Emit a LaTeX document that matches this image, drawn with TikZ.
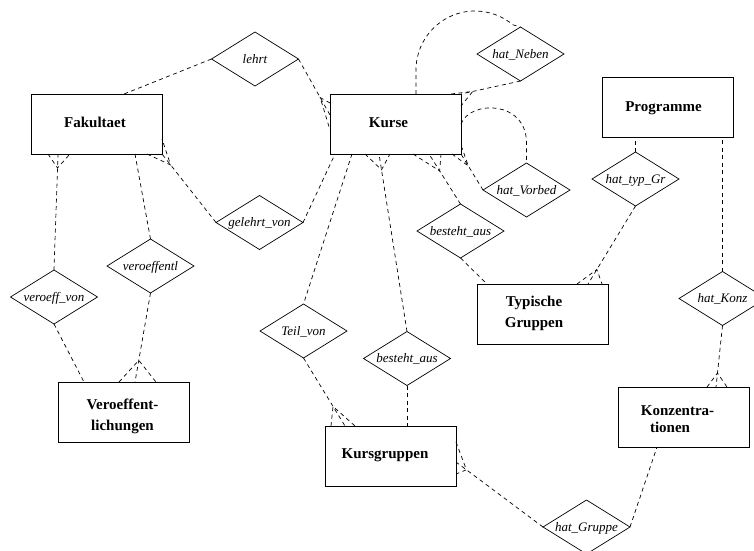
\documentclass[tikz,border=0pt]{standalone}
\usepackage{fontspec}
\setmainfont{Liberation Serif}
\usetikzlibrary{shapes.geometric,calc}

% many-end connector: #1 far end, #2 point on the box edge,
% #3 distance of the fork from the edge, #4 #5 outer toes
\newcommand\manyend[5]{%
  \draw[link] (#1) -- (#2);
  \draw[link] (#4) -- ($(#2)!#3!(#1)$) -- (#5);}

\begin{document}
\begin{tikzpicture}[x=1pt,y=-1pt,
  entity/.style={draw, rectangle, minimum width=131pt, minimum height=60pt,
    inner sep=0pt, outer sep=0pt, line width=0.9pt},
  etext/.style={font=\fontsize{15}{18}\selectfont\bfseries, anchor=base, inner sep=0pt},
  relship/.style={draw, diamond, aspect=1.61, minimum width=87pt, minimum height=54pt,
    inner sep=0pt, outer sep=0pt, line width=0.7pt,
    font=\fontsize{13}{15}\selectfont\itshape, text height=8pt, text depth=0pt},
  link/.style={dash pattern=on 4pt off 3.5pt, line width=0.7pt},
]
\useasboundingbox (0,0) rectangle (754,550);

% entities
\node[entity] (fak)   at (96.5,124)   {};
\node[entity] (kurse) at (395.5,124)  {};
\node[entity] (prog)  at (667.5,107.5) {};
\node[entity] (typ)   at (542.5,314)  {};
\node[entity] (ver)   at (123.5,412)  {};
\node[entity] (kg)    at (390.5,456)  {};
\node[entity] (konz)  at (684,417)    {};

\node[etext] (fakT)   at (95,127)    {Fakultaet};
\node[etext] (kurseT) at (388.5,127) {Kurse};
\node[etext] (progT)  at (663.5,111) {Programme};
\node[etext] (typT1)  at (534,306)   {Typische};
\node[etext] (typT2)  at (534,327)   {Gruppen};
\node[etext] (verT1)  at (122.5,409) {Veroeffent-};
\node[etext] (verT2)  at (122.5,430) {lichungen};
\node[etext] (kgT)    at (385,458)   {Kursgruppen};
\node[etext] (konzT1) at (677.5,415.5) {Konzentra-};
\node[etext] (konzT2) at (670,432.5) {tionen};

% relationships
\node[relship] (lehrt)       at (255,59)     {lehrt};
\node[relship] (gelehrt)     at (259.5,222.5) {gelehrt\_von};
\node[relship] (veroeffentl) at (150.5,266)  {veroeffentl};
\node[relship] (veroeffvon)  at (54,297)     {veroeff\_von};
\node[relship] (hatneben)    at (520.5,54)   {hat\_Neben};
\node[relship] (hatvorbed)   at (526.5,190)  {hat\_Vorbed};
\node[relship] (bestehtA)    at (460.5,231)  {besteht\_aus};
\node[relship] (hattyp)      at (635.5,179)  {hat\_typ\_Gr};
\node[relship] (hatkonz)     at (722.5,298.5) {hat\_Konz};
\node[relship] (teilvon)     at (303.5,331)  {Teil\_von};
\node[relship] (bestehtB)    at (407,358.5)  {besteht\_aus};
\node[relship] (hatgruppe)   at (586.5,527)  {hat\_Gruppe};

% single-ended connectors
\draw[link] (lehrt.west) -- ($(fak.north west)+(93,0)$);
\draw[link] (gelehrt.east) -- ($(kurse.south west)+(5,0)$);
\draw[link] (veroeffentl.north) -- ($(fak.south west)+(104,0)$);
\draw[link] (veroeffvon.south) -- ($(ver.north west)+(26,0)$);
\draw[link] (bestehtA.south) -- ($(typ.north west)+(10,0)$);
\draw[link] (hattyp.north) -- (hattyp.north |- prog.south);
\draw[link] (hatkonz.north) -- (hatkonz.north |- prog.south);
\draw[link] ($(kurse.south west)+(22,0)$) -- (teilvon.north);
\draw[link] (bestehtB.south) -- (bestehtB.south |- kg.north);
\draw[link] (hatgruppe.east) -- ($(konz.south west)+(38.5,0)$);

% recursive loops on Kurse
\draw[link] ($(kurse.north west)+(86,0)$) -- ++(0,-24)
  arc[start angle=180, end angle=310, radius=59] -- (hatneben.north);
\draw[link] (kurse.east) .. controls +(9,-24) and +(0,-43) .. ($(hatvorbed.north)+(0,-20)$)
  -- (hatvorbed.north);

% many-ended connectors
\coordinate (kL)  at ($(kurse.north west)+(0,21)$);
\coordinate (kL1) at ($(kurse.north west)+(0,9)$);
\coordinate (kL2) at ($(kurse.north west)+(0,36)$);
\manyend{lehrt.east}{kL}{20pt}{kL1}{kL2}

\coordinate (fSE)  at (fak.south east);
\coordinate (fSE1) at ($(fak.south east)+(-15,0)$);
\coordinate (fSE2) at ($(fak.south east)+(0,-15)$);
\manyend{gelehrt.west}{fSE}{14pt}{fSE1}{fSE2}

\coordinate (vT)  at ($(ver.north west)+(77,0)$);
\coordinate (vT1) at ($(ver.north west)+(61,0)$);
\coordinate (vT2) at ($(ver.north west)+(98,0)$);
\manyend{veroeffentl.south}{vT}{22pt}{vT1}{vT2}

\coordinate (fB)  at ($(fak.south west)+(27,0)$);
\coordinate (fB1) at ($(fak.south west)+(17,0)$);
\coordinate (fB2) at ($(fak.south west)+(39,0)$);
\manyend{veroeffvon.north}{fB}{14pt}{fB1}{fB2}

\coordinate (kNE)  at (kurse.north east);
\coordinate (kNE1) at ($(kurse.north east)+(-10,0)$);
\coordinate (kNE2) at ($(kurse.north east)+(0,12)$);
\manyend{hatneben.south}{kNE}{12pt}{kNE1}{kNE2}

\coordinate (kSE)  at (kurse.south east);
\coordinate (kSE1) at ($(kurse.south east)+(-9,0)$);
\coordinate (kSE2) at ($(kurse.south east)+(0,-9)$);
\manyend{hatvorbed.west}{kSE}{14pt}{kSE1}{kSE2}

\coordinate (kB)  at ($(kurse.south west)+(99,0)$);
\coordinate (kB1) at ($(kurse.south west)+(83,0)$);
\coordinate (kB2) at ($(kurse.south west)+(111,0)$);
\manyend{bestehtA.north}{kB}{20pt}{kB1}{kB2}

\coordinate (tT)  at ($(typ.north west)+(111,0)$);
\coordinate (tT1) at ($(typ.north west)+(100,0)$);
\coordinate (tT2) at ($(typ.north west)+(125,0)$);
\manyend{hattyp.south}{tT}{17pt}{tT1}{tT2}

\coordinate (zT)  at ($(konz.north west)+(97.5,0)$);
\coordinate (zT1) at ($(konz.north west)+(88.5,0)$);
\coordinate (zT2) at ($(konz.north west)+(108.5,0)$);
\manyend{hatkonz.south}{zT}{14pt}{zT1}{zT2}

\coordinate (gT)  at ($(kg.north west)+(20,0)$);
\coordinate (gT1) at ($(kg.north west)+(6,0)$);
\coordinate (gT2) at ($(kg.north west)+(30,0)$);
\manyend{teilvon.south}{gT}{23pt}{gT1}{gT2}

\coordinate (kM)  at ($(kurse.south west)+(49,0)$);
\coordinate (kM1) at ($(kurse.south west)+(35,0)$);
\coordinate (kM2) at ($(kurse.south west)+(60,0)$);
\manyend{bestehtB.north}{kM}{16pt}{kM1}{kM2}

\coordinate (gR)  at ($(kg.south east)+(0,-24)$);
\coordinate (gR1) at ($(kg.south east)+(0,-44)$);
\coordinate (gR2) at ($(kg.south east)+(0,-12)$);
\manyend{hatgruppe.west}{gR}{13pt}{gR1}{gR2}

\end{tikzpicture}
\end{document}
